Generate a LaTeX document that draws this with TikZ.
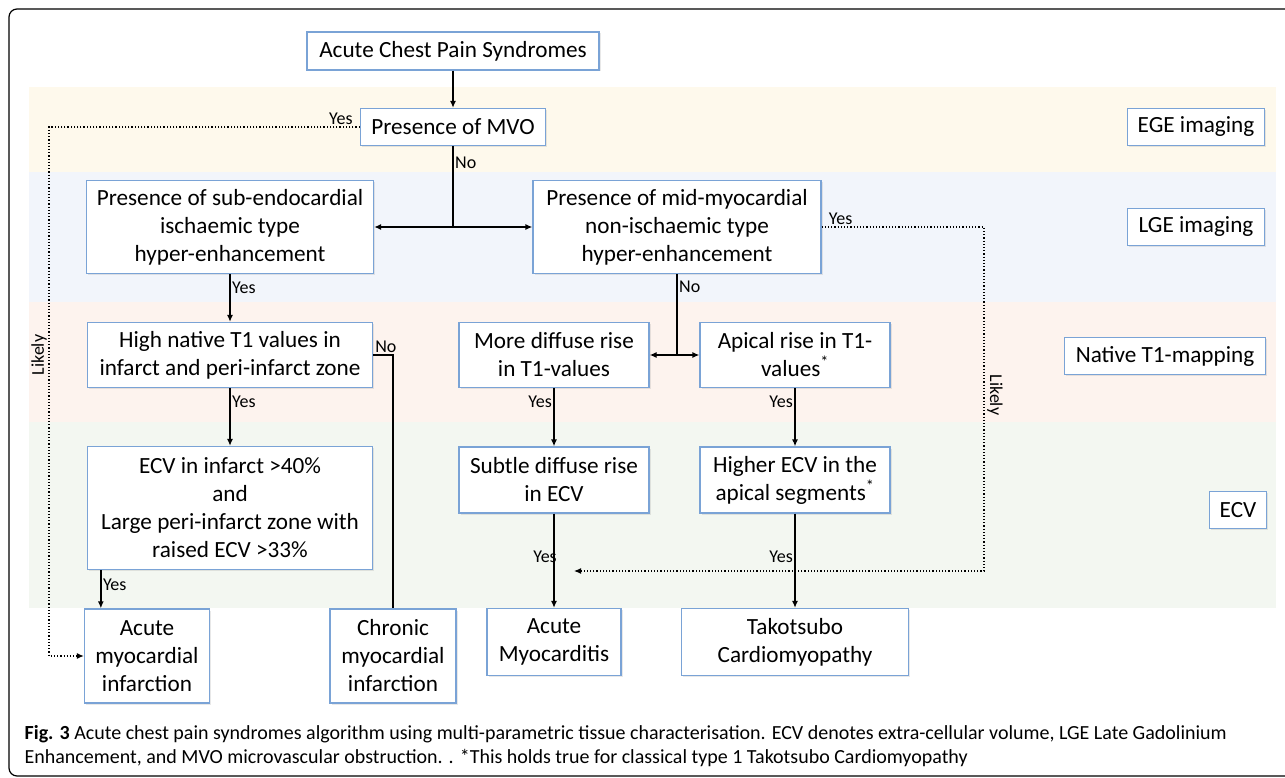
\documentclass[tikz,border=0pt]{standalone}
\usepackage{fontspec}
\setmainfont{Carlito}
\usetikzlibrary{arrows.meta}
\usetikzlibrary{shadows}

\definecolor{boxblue}{HTML}{7AA3D6}
\definecolor{egefill}{HTML}{FEF9EC}
\definecolor{lgefill}{HTML}{F2F5FB}
\definecolor{tonefill}{HTML}{FDF3EE}
\definecolor{ecvfill}{HTML}{F3F7F1}

\tikzset{
  flow/.style={draw=boxblue, line width=1.3pt, fill=white, align=center,
    inner sep=2pt, font=\fontsize{23.2}{28}\selectfont,
    drop shadow={opacity=0.18, shadow xshift=1.5pt, shadow yshift=-1.5pt}},
  lab/.style={font=\fontsize{18}{20}\selectfont, inner sep=1.5pt},
  likely/.style={dotted, line width=1.2pt},
}

\begin{document}
\begin{tikzpicture}[x=1pt, y=-1pt, >={Latex[length=7pt,width=6pt]}, line width=1.3pt]
    \useasboundingbox (0,0) rectangle (1285,778);

    % bands
    \fill[egefill] (29,87) rectangle (1276,172);
    \fill[lgefill] (29,172) rectangle (1276,302);
    \fill[tonefill] (29,302) rectangle (1276,422);
    \fill[ecvfill] (29,422) rectangle (1276,608);
    \draw[line width=1.2pt, rounded corners=8pt] (9,9) rectangle (1300,776);

    \path (453,51) node [flow, minimum width=292, minimum height=38] (acp) {Acute Chest Pain Syndromes};
    \path (453,127) node [flow, minimum width=185, minimum height=37] (mvo) {Presence of MVO};
    \path (230,227) node [flow, minimum width=287, minimum height=93] (subendo)
        {Presence of sub-endocardial\\ischaemic type\\hyper-enhancement};
    \path (677,227) node [flow, minimum width=288, minimum height=93] (midmyo)
        {Presence of mid-myocardial\\non-ischaemic type\\hyper-enhancement};
    \path (230,355) node [flow, minimum width=285, minimum height=65] (hight1)
        {High native T1 values in\\infarct and peri-infarct zone};
    \path (554,355) node [flow, minimum width=190, minimum height=65] (moredif)
        {More diffuse rise\\in T1-values};
    \path (795,355) node [flow, minimum width=190, minimum height=65] (apical)
        {Apical rise in T1-\\values\textsuperscript{*}};
    \path (230,508) node [flow, minimum width=285, minimum height=123] (ecvinf)
        {ECV in infarct >40\%\\and\\Large peri-infarct zone with\\raised ECV >33\%};
    \path (554,480) node [flow, minimum width=190, minimum height=66] (subtle)
        {Subtle diffuse rise\\in ECV};
    \path (795,480) node [flow, minimum width=190, minimum height=66] (higher)
        {Higher ECV in the\\apical segments\textsuperscript{*}};
    \path (147,656) node [flow, minimum width=125, minimum height=94] (ami)
        {Acute\\myocardial\\infarction};
    \path (393,656) node [flow, minimum width=126, minimum height=94] (cmi)
        {Chronic\\myocardial\\infarction};
    \path (554,642) node [flow, minimum width=134, minimum height=67] (amyo)
        {Acute\\Myocarditis};
    \path (795,642) node [flow, minimum width=227, minimum height=67] (tako)
        {Takotsubo\\Cardiomyopathy};

    % band labels
    \path (1196,127) node [flow, minimum width=137, minimum height=37] (egelab) {EGE imaging};
    \path (1196,227) node [flow, minimum width=137, minimum height=37] (lgelab) {LGE imaging};
    \path (1165,356) node [flow, minimum width=201, minimum height=37] (t1lab) {Native T1-mapping};
    \path (1238,510) node [flow, minimum width=57, minimum height=37] (ecvlab) {ECV};

    % main flow
    \draw [->] (acp) -- (mvo);
    \path (mvo.south |- subendo.east) coordinate (nosplit);
    \draw (mvo) -- (nosplit) node[lab, pos=0.2, right] {No};
    \draw [->] (nosplit) -- (subendo);
    \draw [->] (nosplit) -- (midmyo);
    \path (midmyo.south |- moredif.east) coordinate (tsplit);
    \draw (midmyo) -- (tsplit) node[lab, pos=0.16, right] {No};
    \draw [->] (tsplit) -- (moredif);
    \draw [->] (tsplit) -- (apical);

    \draw [->] (subendo) -- (hight1) node[lab, pos=0.29, right] {Yes};
    \draw [->] (hight1) -- (ecvinf) node[lab, pos=0.24, right] {Yes};
    \draw [->] (moredif) -- (subtle) node[lab, pos=0.24, left] {Yes};
    \draw [->] (apical) -- (higher) node[lab, pos=0.24, left] {Yes};
    \draw [->] (subtle) -- (amyo) node[lab, pos=0.46, xshift=-9pt] {Yes};
    \draw [->] (higher) -- (tako) node[lab, pos=0.46, left] {Yes};
    \path (ami.north west) ++(17,0) coordinate (amitop);
    \draw [->] (ecvinf.south -| amitop) -- (amitop) node[lab, pos=0.38, right] {Yes};
    \draw (hight1) -| (cmi) node[lab, pos=0, anchor=south west] {No};

    % likely routes
    \path (49,0) coordinate (lrail) (984,0) coordinate (rrail) (574,571) coordinate (likelyend);
    \draw [likely,->] (mvo) -- (mvo.west -| lrail) |- (ami);
    \path (mvo.west) node[lab, anchor=south east, xshift=-5pt] (mvoyes) {Yes};
    \path (39,355) node[lab, rotate=90] (likelyl) {Likely};
    \draw [likely,->] (midmyo) -- (midmyo.east -| rrail) |- (likelyend);
    \path (midmyo.east) node[lab, anchor=south west, xshift=5pt] (midyes) {Yes};
    \path (995,395) node[lab, rotate=-90] (likelyr) {Likely};

    % caption
    \path (24,725) node[anchor=north west, align=left, inner sep=0pt,
        font=\fontsize{20}{24}\selectfont] (caption)
        {\textbf{Fig. 3} Acute chest pain syndromes algorithm using multi-parametric tissue characterisation. ECV denotes extra-cellular volume, LGE Late Gadolinium\\
         Enhancement, and MVO microvascular obstruction. . *This holds true for classical type 1 Takotsubo Cardiomyopathy};
\end{tikzpicture}
\end{document}
